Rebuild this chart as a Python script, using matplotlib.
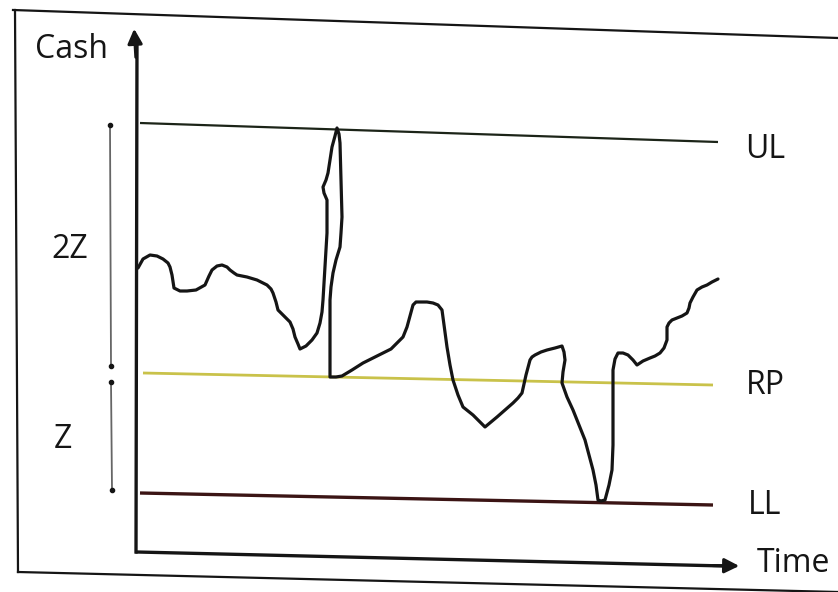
import matplotlib
matplotlib.use("Agg")
import matplotlib.pyplot as plt
import numpy as np

# ---- data (drawing units: time to the right, cash downward-inverted scale) ----
time_pts = [138, 143, 150, 157, 163, 168, 170, 172, 174, 180, 187, 196, 205, 209, 212, 217,
            222, 227, 230, 234, 237, 247, 257, 267, 271, 273, 276, 278, 284, 290, 293, 295,
            298, 300, 306, 312, 317, 320, 322, 323, 325, 327, 327, 324, 323, 326, 328, 330,
            332, 335, 337, 339, 340, 341, 342, 341, 340, 336, 333, 331, 330, 330, 336, 342,
            352, 363, 373, 383, 391, 397, 403, 407, 410, 413, 416, 420, 427, 433, 438, 442,
            444, 447, 450, 453, 458, 463, 468, 473, 479, 485, 491, 497, 505, 513, 518, 522,
            526, 530, 532, 535, 541, 547, 555, 562, 564, 565, 563, 562, 567, 573, 579, 585,
            589, 593, 596, 598, 601, 605, 609, 612, 613, 613, 613, 615, 618, 623, 628, 633,
            637, 643, 650, 655, 660, 664, 667, 667, 669, 672, 677, 682, 687, 689, 690, 693,
            697, 702, 707, 712, 718]
cash_pts = [268, 259, 255, 256, 259, 263, 267, 275, 288, 291, 291, 290, 285, 276, 270, 266,
            265, 267, 270, 273, 275, 277, 280, 285, 289, 293, 302, 310, 316, 322, 329, 337,
            344, 349, 346, 340, 333, 323, 312, 300, 266, 233, 200, 193, 187, 180, 173, 160,
            147, 136, 128, 134, 143, 180, 217, 233, 247, 260, 273, 287, 300, 377, 377, 376,
            370, 363, 358, 353, 349, 343, 337, 327, 316, 305, 302, 302, 302, 303, 305, 310,
            325, 347, 365, 380, 395, 407, 411, 415, 421, 427, 422, 417, 410, 403, 398, 393,
            375, 360, 357, 355, 352, 350, 348, 346, 352, 360, 372, 383, 397, 410, 425, 440,
            455, 470, 485, 500, 501, 500, 485, 470, 445, 420, 370, 359, 353, 353, 355, 360,
            365, 361, 358, 356, 353, 348, 340, 327, 323, 320, 318, 316, 313, 308, 303, 297,
            290, 287, 285, 282, 279]

level_names = ["UL", "RP", "LL"]
level_start = [123, 373, 493]
level_end = [142, 385, 505]
level_x = [(140, 718), (143, 713), (140, 713)]
level_colors = ["#1c2418", "#c9c24a", "#3b1414"]
level_widths = [1.6, 2.0, 2.4]
label_pos = [(765, 150), (765, 385), (765, 505)]

W, H = 838, 592
fig = plt.figure(figsize=(W / 100, H / 100), dpi=100)
ax = fig.add_axes([0, 0, 1, 1])
ax.set_xlim(0, W)
ax.set_ylim(H, 0)
ax.axis("off")
fig.patch.set_facecolor("white")

ink = "#151515"
font = dict(family=["Open Sans", "DejaVu Sans"], color=ink, fontweight="medium")

# outer frame (scanned, slightly skewed)
ax.plot([13, 838], [10, 38], color=ink, lw=1.6)
ax.plot([15, 18], [10, 572], color=ink, lw=1.6)
ax.plot([18, 838], [572, 592], color=ink, lw=1.6)

# axes with arrows
ax.plot([136, 137], [552, 40], color=ink, lw=2.4)
ax.annotate("", xy=(134, 26), xytext=(136, 60),
            arrowprops=dict(arrowstyle="-|>", color=ink, lw=2.2, mutation_scale=22))
ax.plot([137, 725], [552, 566], color=ink, lw=2.4)
ax.annotate("", xy=(742, 566), xytext=(710, 565.5),
            arrowprops=dict(arrowstyle="-|>", color=ink, lw=2.2, mutation_scale=22))

# levels
for name, y0, y1, (x0, x1), c, lw, (lx, ly) in zip(level_names, level_start, level_end,
                                                    level_x, level_colors, level_widths, label_pos):
    ax.plot([x0, x1], [y0, y1], color=c, lw=lw, solid_capstyle="butt")
    ax.text(lx, ly, name, fontsize=23, ha="center", va="center", **font)

# cash curve
ax.plot(time_pts, cash_pts, color=ink, lw=2.3, solid_joinstyle="round", solid_capstyle="round")

# dimension markers 2Z and Z
ax.plot([110, 111], [125, 366], color="#666666", lw=1.3, marker="o", ms=3, mfc=ink, mec=ink)
ax.plot([111, 112], [382, 490], color="#666666", lw=1.3, marker="o", ms=3, mfc=ink, mec=ink)
ax.text(70, 249, "2Z", fontsize=23, ha="center", va="center", **font)
ax.text(63, 440, "Z", fontsize=23, ha="center", va="center", **font)

ax.text(71, 50, "Cash", fontsize=23, ha="center", va="center", **font)
ax.text(793, 563, "Time", fontsize=23, ha="center", va="center", **font)

fig.savefig("out.png", dpi=100, facecolor="white")
